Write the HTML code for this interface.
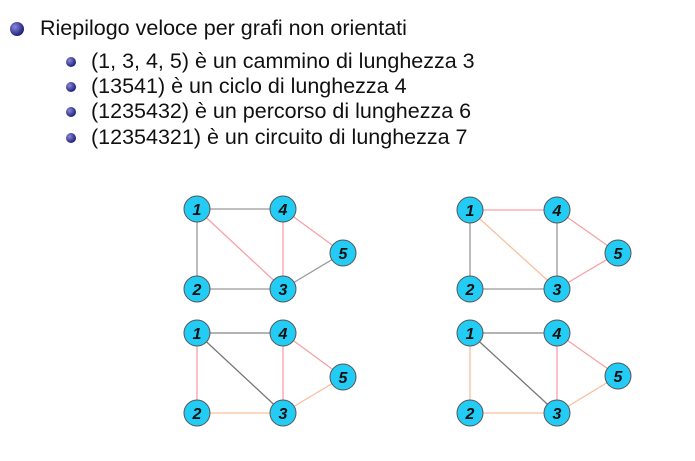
<!DOCTYPE html>
<html><head><style>
body{margin:0;width:695px;height:461px;background:#fff;overflow:hidden;position:relative;font-family:"Liberation Sans",sans-serif;color:#111}
.t{position:absolute;white-space:nowrap}
.b{position:absolute;border-radius:50%;background:radial-gradient(circle at 35% 35%,#8888dd,#22227a 70%)}
</style></head><body>
<div class="b" style="left:10px;top:22px;width:14px;height:14px"></div>
<div class="t" style="left:40px;top:16px;font-size:21.5px">Riepilogo veloce per grafi non orientati</div>
<div class="b" style="left:66px;top:57px;width:10px;height:10px"></div>
<div class="t" style="left:91px;top:49px;font-size:21.5px">(1, 3, 4, 5) è un cammino di lunghezza 3</div>
<div class="b" style="left:66px;top:82px;width:10px;height:10px"></div>
<div class="t" style="left:91px;top:74px;font-size:21.5px">(13541) è un ciclo di lunghezza 4</div>
<div class="b" style="left:66px;top:107px;width:10px;height:10px"></div>
<div class="t" style="left:91px;top:99px;font-size:21.5px">(1235432) è un percorso di lunghezza 6</div>
<div class="b" style="left:66px;top:133px;width:10px;height:10px"></div>
<div class="t" style="left:91px;top:125px;font-size:21.5px">(12354321) è un circuito di lunghezza 7</div>
<svg width="695" height="461" style="position:absolute;left:0;top:0" font-family="Liberation Sans" font-style="italic" font-weight="bold" font-size="16">
<defs>
<g id="n"><circle r="13" fill="#22ccf5" stroke="#555" stroke-width="1"/></g>
</defs>
<g stroke-width="1.3">
<line x1="197" y1="209" x2="283" y2="209" stroke="#999"/>
<line x1="197" y1="209" x2="197" y2="289" stroke="#999"/>
<line x1="197" y1="289" x2="283" y2="289" stroke="#999"/>
<line x1="283" y1="289" x2="343" y2="253" stroke="#999"/>
<line x1="197" y1="209" x2="283" y2="289" stroke="#f8a0a8"/>
<line x1="283" y1="209" x2="283" y2="289" stroke="#f8a0a8"/>
<line x1="283" y1="209" x2="343" y2="253" stroke="#f8a0a8"/>
<line x1="470" y1="210" x2="557" y2="210" stroke="#f8a0a8"/>
<line x1="470" y1="210" x2="557" y2="289" stroke="#f8c0a0"/>
<line x1="557" y1="210" x2="618" y2="253" stroke="#f8a0a8"/>
<line x1="618" y1="253" x2="557" y2="289" stroke="#f8a0a8"/>
<line x1="470" y1="210" x2="470" y2="289" stroke="#999"/>
<line x1="470" y1="289" x2="557" y2="289" stroke="#999"/>
<line x1="557" y1="210" x2="557" y2="289" stroke="#999"/>
<line x1="197" y1="333" x2="283" y2="333" stroke="#888"/>
<line x1="197" y1="333" x2="283" y2="413" stroke="#777"/>
<line x1="197" y1="333" x2="197" y2="413" stroke="#f8a0a8"/>
<line x1="197" y1="413" x2="283" y2="413" stroke="#f8c0a0"/>
<line x1="283" y1="333" x2="283" y2="413" stroke="#f8a0a8"/>
<line x1="283" y1="333" x2="343" y2="377" stroke="#f8a0a8"/>
<line x1="343" y1="377" x2="283" y2="413" stroke="#f8c0a0"/>
<line x1="470" y1="333" x2="557" y2="333" stroke="#888"/>
<line x1="470" y1="333" x2="557" y2="413" stroke="#777"/>
<line x1="470" y1="333" x2="470" y2="413" stroke="#f8c0a0"/>
<line x1="470" y1="413" x2="557" y2="413" stroke="#f8c0a0"/>
<line x1="557" y1="333" x2="557" y2="413" stroke="#f8a0a8"/>
<line x1="557" y1="333" x2="618" y2="376" stroke="#f8a0a8"/>
<line x1="618" y1="376" x2="557" y2="413" stroke="#f8c0a0"/>
</g>
<g text-anchor="middle" fill="#111">
<g transform="translate(197,209)"><use href="#n"/><text y="6">1</text></g>
<g transform="translate(283,209)"><use href="#n"/><text y="6">4</text></g>
<g transform="translate(343,253)"><use href="#n"/><text y="6">5</text></g>
<g transform="translate(197,289)"><use href="#n"/><text y="6">2</text></g>
<g transform="translate(283,289)"><use href="#n"/><text y="6">3</text></g>
<g transform="translate(470,210)"><use href="#n"/><text y="6">1</text></g>
<g transform="translate(557,210)"><use href="#n"/><text y="6">4</text></g>
<g transform="translate(618,253)"><use href="#n"/><text y="6">5</text></g>
<g transform="translate(470,289)"><use href="#n"/><text y="6">2</text></g>
<g transform="translate(557,289)"><use href="#n"/><text y="6">3</text></g>
<g transform="translate(197,333)"><use href="#n"/><text y="6">1</text></g>
<g transform="translate(283,333)"><use href="#n"/><text y="6">4</text></g>
<g transform="translate(343,377)"><use href="#n"/><text y="6">5</text></g>
<g transform="translate(197,413)"><use href="#n"/><text y="6">2</text></g>
<g transform="translate(283,413)"><use href="#n"/><text y="6">3</text></g>
<g transform="translate(470,333)"><use href="#n"/><text y="6">1</text></g>
<g transform="translate(557,333)"><use href="#n"/><text y="6">4</text></g>
<g transform="translate(618,376)"><use href="#n"/><text y="6">5</text></g>
<g transform="translate(470,413)"><use href="#n"/><text y="6">2</text></g>
<g transform="translate(557,413)"><use href="#n"/><text y="6">3</text></g>
</g>
</svg>
</body></html>
